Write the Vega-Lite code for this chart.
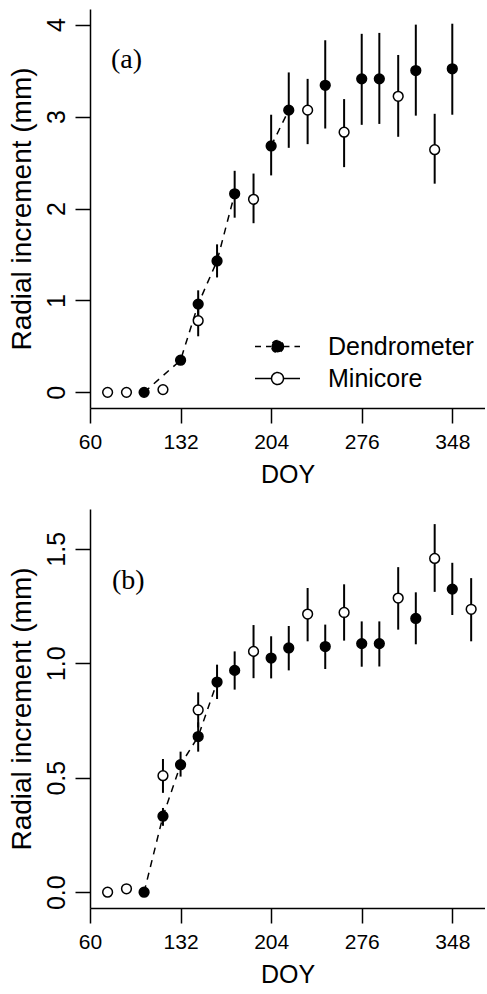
{
  "$schema": "https://vega.github.io/schema/vega-lite/v6.json",
  "background": "white",
  "padding": {"left": 8, "top": 9, "right": 0, "bottom": 0},
  "datasets": {
    "a": [
      {"doy": 74, "series": "Minicore", "value": 0},
      {"doy": 89, "series": "Minicore", "value": 0},
      {"doy": 103, "series": "Dendrometer", "value": 0, "seg": "s1"},
      {"doy": 118, "series": "Minicore", "value": 0.03},
      {"doy": 132, "series": "Dendrometer", "value": 0.35, "seg": "s1"},
      {"doy": 146, "series": "Dendrometer", "value": 0.96, "lo": 0.81, "hi": 1.11, "seg": "s1"},
      {"doy": 146, "series": "Minicore", "value": 0.78, "lo": 0.61, "hi": 0.95},
      {"doy": 161, "series": "Dendrometer", "value": 1.43, "lo": 1.25, "hi": 1.61, "seg": "s1"},
      {"doy": 175, "series": "Dendrometer", "value": 2.16, "lo": 1.9, "hi": 2.41, "seg": "s1"},
      {"doy": 190, "series": "Minicore", "value": 2.1, "lo": 1.84, "hi": 2.38},
      {"doy": 204, "series": "Dendrometer", "value": 2.68, "lo": 2.36, "hi": 3.02, "seg": "s2"},
      {"doy": 218, "series": "Dendrometer", "value": 3.07, "lo": 2.66, "hi": 3.48, "seg": "s2"},
      {"doy": 233, "series": "Minicore", "value": 3.07, "lo": 2.7, "hi": 3.41},
      {"doy": 247, "series": "Dendrometer", "value": 3.34, "lo": 2.87, "hi": 3.83},
      {"doy": 262, "series": "Minicore", "value": 2.83, "lo": 2.45, "hi": 3.19},
      {"doy": 276, "series": "Dendrometer", "value": 3.41, "lo": 2.91, "hi": 3.9},
      {"doy": 290, "series": "Dendrometer", "value": 3.41, "lo": 2.92, "hi": 3.91},
      {"doy": 305, "series": "Minicore", "value": 3.22, "lo": 2.78, "hi": 3.67},
      {"doy": 319, "series": "Dendrometer", "value": 3.5, "lo": 3.01, "hi": 4.0},
      {"doy": 334, "series": "Minicore", "value": 2.64, "lo": 2.27, "hi": 3.03},
      {"doy": 348, "series": "Dendrometer", "value": 3.52, "lo": 3.02, "hi": 4.01}
    ],
    "b": [
      {"doy": 74, "series": "Minicore", "value": 0},
      {"doy": 89, "series": "Minicore", "value": 0.015},
      {"doy": 103, "series": "Dendrometer", "value": 0, "seg": "s1"},
      {"doy": 118, "series": "Dendrometer", "value": 0.332, "lo": 0.29, "hi": 0.368, "seg": "s1"},
      {"doy": 118, "series": "Minicore", "value": 0.509, "lo": 0.434, "hi": 0.582},
      {"doy": 132, "series": "Dendrometer", "value": 0.557, "lo": 0.505, "hi": 0.614, "seg": "s1"},
      {"doy": 146, "series": "Dendrometer", "value": 0.68, "lo": 0.614, "hi": 0.742, "seg": "s1"},
      {"doy": 146, "series": "Minicore", "value": 0.796, "lo": 0.72, "hi": 0.873},
      {"doy": 161, "series": "Dendrometer", "value": 0.918, "lo": 0.844, "hi": 0.994, "seg": "s1"},
      {"doy": 175, "series": "Dendrometer", "value": 0.969, "lo": 0.885, "hi": 1.052},
      {"doy": 190, "series": "Minicore", "value": 1.052, "lo": 0.935, "hi": 1.167},
      {"doy": 204, "series": "Dendrometer", "value": 1.023, "lo": 0.934, "hi": 1.118},
      {"doy": 218, "series": "Dendrometer", "value": 1.067, "lo": 0.969, "hi": 1.163},
      {"doy": 233, "series": "Minicore", "value": 1.215, "lo": 1.096, "hi": 1.329},
      {"doy": 247, "series": "Dendrometer", "value": 1.073, "lo": 0.975, "hi": 1.169},
      {"doy": 262, "series": "Minicore", "value": 1.222, "lo": 1.099, "hi": 1.345},
      {"doy": 276, "series": "Dendrometer", "value": 1.086, "lo": 0.985, "hi": 1.183},
      {"doy": 290, "series": "Dendrometer", "value": 1.086, "lo": 0.986, "hi": 1.183},
      {"doy": 305, "series": "Minicore", "value": 1.285, "lo": 1.147, "hi": 1.42},
      {"doy": 319, "series": "Dendrometer", "value": 1.196, "lo": 1.083, "hi": 1.31},
      {"doy": 334, "series": "Minicore", "value": 1.458, "lo": 1.312, "hi": 1.608},
      {"doy": 348, "series": "Dendrometer", "value": 1.324, "lo": 1.211, "hi": 1.439},
      {"doy": 363, "series": "Minicore", "value": 1.236, "lo": 1.096, "hi": 1.372}
    ]
  },
  "config": {
    "view": {"stroke": null},
    "font": "Liberation Sans",
    "concat": {"spacing": 22},
    "axis": {
      "domainColor": "black", "domainWidth": 1.5, "tickColor": "black", "tickWidth": 1.5, "tickSize": 15,
      "labelColor": "black", "titleColor": "black", "labelFont": "Liberation Sans", "titleFont": "Liberation Sans",
      "titleFontWeight": "normal", "grid": false
    },
    "axisX": {"labelFontSize": 21, "titleFontSize": 25, "labelPadding": 8, "titlePadding": 10, "labelFlush": false, "labelOverlap": false},
    "axisY": {"labelFontSize": 25, "titleFontSize": 28, "labelAngle": -90, "labelAlign": "center", "labelBaseline": "bottom", "labelPadding": 6, "titlePadding": 8}
  },
  "resolve": {"scale": {"fill": "independent"}, "legend": {"fill": "independent"}},
  "vconcat": [
    {
      "width": 395,
      "height": 399,
      "layer": [
        {
          "data": {"name": "a"},
          "transform": [{"filter": "datum.seg != null"}],
          "mark": {"type": "line", "color": "black", "strokeWidth": 1.5, "strokeDash": [7, 6]},
          "encoding": {
            "x": {"field": "doy", "type": "quantitative", "scale": {"domain": [60, 374], "nice": false, "zero": false}, "axis": {"values": [60, 132, 204, 276, 348], "title": "DOY"}},
            "y": {"field": "value", "type": "quantitative", "scale": {"domain": [-0.17, 4.17], "nice": false, "zero": false}, "axis": {"values": [0, 1, 2, 3, 4], "format": "d", "title": "Radial increment (mm)"}},
            "detail": {"field": "seg"}
          }
        },
        {
          "data": {"name": "a"},
          "transform": [{"filter": "datum.lo != null"}],
          "mark": {"type": "rule", "color": "black", "strokeWidth": 2},
          "encoding": {
            "x": {"field": "doy", "type": "quantitative"},
            "y": {"field": "lo", "type": "quantitative"},
            "y2": {"field": "hi"}
          }
        },
        {
          "data": {"name": "a"},
          "mark": {"type": "point", "shape": "circle", "filled": true, "stroke": "black", "strokeWidth": 1.5, "size": 95, "opacity": 1},
          "encoding": {
            "x": {"field": "doy", "type": "quantitative"},
            "y": {"field": "value", "type": "quantitative"},
            "fill": {
              "field": "series", "type": "nominal",
              "scale": {"domain": ["Dendrometer", "Minicore"], "range": ["black", "white"]},
              "legend": {
                "title": null, "orient": "none", "legendX": 175, "legendY": 325,
                "symbolType": "M-2,0H-0.53M0.53,0H2M0.53,0A0.53,0.53,0,1,1,-0.53,0A0.53,0.53,0,1,1,0.53,0Z",
                "symbolSize": 506, "symbolStrokeColor": "black", "symbolStrokeWidth": 1.5, "symbolOpacity": 1,
                "labelFontSize": 25, "labelFont": "Liberation Sans", "labelColor": "black", "labelOffset": 38,
                "rowPadding": 6, "padding": 0,
                "encode": {"symbols": {"update": {"stroke": {"value": "black"}, "strokeDash": [{"test": "datum.value === 'Dendrometer'", "value": [6, 5]}, {"value": [1, 0]}]}}}
              }
            }
          }
        },
        {
          "data": {"values": [{"label": "(a)", "doy": 89, "value": 3.62}]},
          "mark": {"type": "text", "font": "Liberation Serif", "fontSize": 28, "color": "black"},
          "encoding": {
            "x": {"field": "doy", "type": "quantitative"},
            "y": {"field": "value", "type": "quantitative"},
            "text": {"field": "label"}
          }
        }
      ]
    },
    {
      "width": 395,
      "height": 399,
      "layer": [
        {
          "data": {"name": "b"},
          "transform": [{"filter": "datum.seg != null"}],
          "mark": {"type": "line", "color": "black", "strokeWidth": 1.5, "strokeDash": [7, 6]},
          "encoding": {
            "x": {"field": "doy", "type": "quantitative", "scale": {"domain": [60, 374], "nice": false, "zero": false}, "axis": {"values": [60, 132, 204, 276, 348], "title": "DOY"}},
            "y": {"field": "value", "type": "quantitative", "scale": {"domain": [-0.069, 1.674], "nice": false, "zero": false}, "axis": {"values": [0, 0.5, 1, 1.5], "format": ".1f", "title": "Radial increment (mm)"}},
            "detail": {"field": "seg"}
          }
        },
        {
          "data": {"name": "b"},
          "transform": [{"filter": "datum.lo != null"}],
          "mark": {"type": "rule", "color": "black", "strokeWidth": 2},
          "encoding": {
            "x": {"field": "doy", "type": "quantitative"},
            "y": {"field": "lo", "type": "quantitative"},
            "y2": {"field": "hi"}
          }
        },
        {
          "data": {"name": "b"},
          "mark": {"type": "point", "shape": "circle", "filled": true, "stroke": "black", "strokeWidth": 1.5, "size": 95, "opacity": 1},
          "encoding": {
            "x": {"field": "doy", "type": "quantitative"},
            "y": {"field": "value", "type": "quantitative"},
            "fill": {
              "field": "series", "type": "nominal",
              "scale": {"domain": ["Dendrometer", "Minicore"], "range": ["black", "white"]},
              "legend": null
            }
          }
        },
        {
          "data": {"values": [{"label": "(b)", "doy": 90.5, "value": 1.36}]},
          "mark": {"type": "text", "font": "Liberation Serif", "fontSize": 28, "color": "black"},
          "encoding": {
            "x": {"field": "doy", "type": "quantitative"},
            "y": {"field": "value", "type": "quantitative"},
            "text": {"field": "label"}
          }
        }
      ]
    }
  ]
}
